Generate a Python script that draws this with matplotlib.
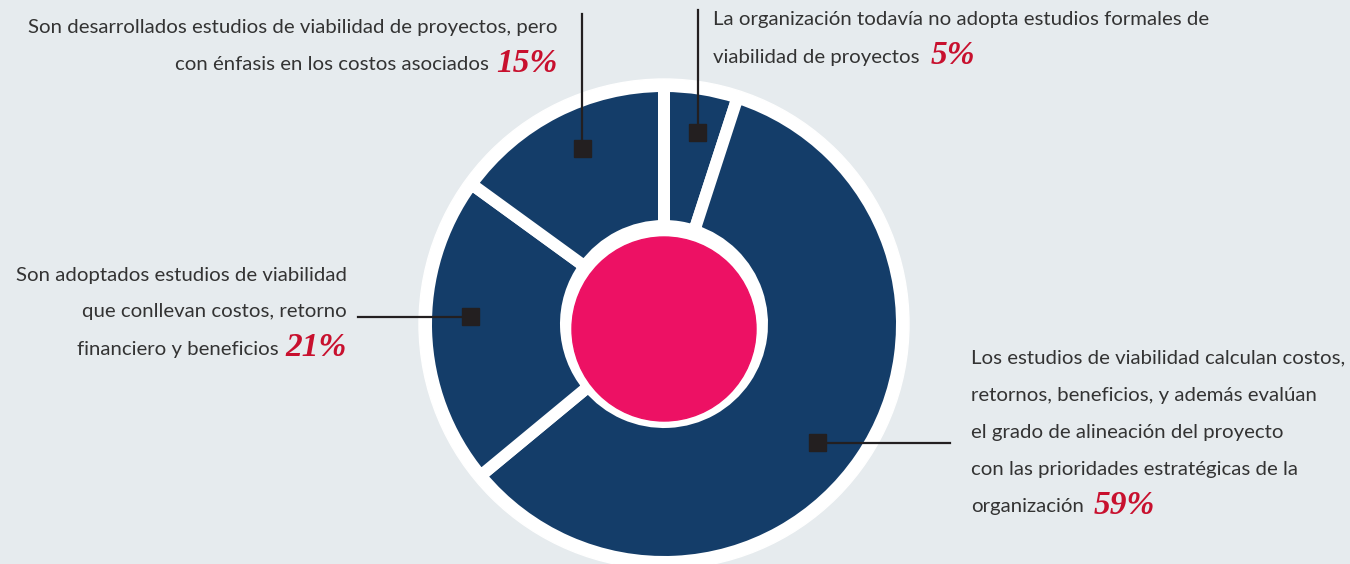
import matplotlib.pyplot as plt
from matplotlib.patches import Circle
import numpy as np

# slices clockwise from 12 o'clock
values = [5, 59, 21, 15]
pcts = ['5%', '59%', '21%', '15%']
label_lines = [
    ['La organización todavía no adopta estudios formales de',
     'viabilidad de proyectos'],
    ['Los estudios de viabilidad calculan costos,',
     'retornos, beneficios, y además evalúan',
     'el grado de alineación del proyecto',
     'con las prioridades estratégicas de la',
     'organización'],
    ['Son adoptados estudios de viabilidad',
     'que conllevan costos, retorno',
     'financiero y beneficios'],
    ['Son desarrollados estudios de viabilidad de proyectos, pero',
     'con énfasis en los costos asociados'],
]

bg = '#e6ebee'
blue = '#143d69'
pink = '#ed1164'
red = '#c8102e'
txt = '#333333'

W, H = 1350, 564
body_font = ['Lato', 'DejaVu Sans']
pct_font = ['Liberation Serif', 'DejaVu Serif']
pfs = 24

fig = plt.figure(figsize=(W / 100, H / 100), dpi=100)
fig.patch.set_facecolor(bg)
ax = fig.add_axes([0, 0, 1, 1])
ax.set_facecolor(bg)

# fit body font size so the longest line is as wide as in the source (~530 px)
renderer = fig.canvas.get_renderer()
probe = fig.text(0, 0, label_lines[3][0], fontsize=20, family=body_font)
fs = 20 * 530 / probe.get_window_extent(renderer).width
probe.remove()

cx, cy = 664, H - 324
ax.add_patch(Circle((cx, cy), 245, color='white', zorder=0))
ax.pie(values, startangle=90, counterclock=False, radius=238, center=(cx, cy),
       colors=[blue] * len(values),
       wedgeprops=dict(width=140, edgecolor='white', linewidth=12 * 0.72))
ax.add_patch(Circle((cx, cy - 5), 92, color=pink, zorder=3))

# marker spots on each slice
cum = np.cumsum([0] + values)
mid = 90 - (cum[:-1] + cum[1:]) / 2 * 3.6
nudge = [-1, -3.5, -4, -2]
marks = []
for a, n in zip(mid, nudge):
    t = np.radians(a + n)
    marks.append((cx + 194 * np.cos(t), cy + 194 * np.sin(t)))

# leader end points (pixel space, y from top)
ends = [('v', 10), ('h', 950), ('h', 358), ('v', 14)]
for (mx, my), (kind, e) in zip(marks, ends):
    if kind == 'v':
        ax.plot([mx, mx], [my, H - e], color='#231f20', lw=1.6, zorder=4)
    else:
        ax.plot([mx, e], [my, my], color='#231f20', lw=1.6, zorder=4)
    ax.add_patch(plt.Rectangle((mx - 8.5, my - 8.5), 17, 17, color='#231f20', zorder=5))


def body(x, y, s, ha):
    ax.text(x, H - y, s, ha=ha, va='center', fontsize=fs, color=txt,
            family=body_font, zorder=6)


def pct(x, y, s, ha):
    ax.text(x, H - y, s, ha=ha, va='center', fontsize=pfs, color=red,
            family=pct_font, weight='bold', style='italic', zorder=6)


# 5% block (left aligned, top right of donut)
body(713, 20, label_lines[0][0], 'left')
body(713, 57, label_lines[0][1], 'left')
pct(931, 56, pcts[0], 'left')

# 59% block
for i, s in enumerate(label_lines[1]):
    body(971, 358 + i * 37.2, s, 'left')
pct(1094, 506, pcts[1], 'left')

# 21% block
body(347, 275, label_lines[2][0], 'right')
body(347, 312, label_lines[2][1], 'right')
body(279, 349, label_lines[2][2], 'right')
pct(347, 348, pcts[2], 'right')

# 15% block
body(557, 28, label_lines[3][0], 'right')
body(489, 65, label_lines[3][1], 'right')
pct(557, 64, pcts[3], 'right')

ax.set_xlim(0, W)
ax.set_ylim(0, H)
ax.set_aspect('equal')
ax.axis('off')

fig.savefig('out.png', dpi=100, facecolor=bg)
